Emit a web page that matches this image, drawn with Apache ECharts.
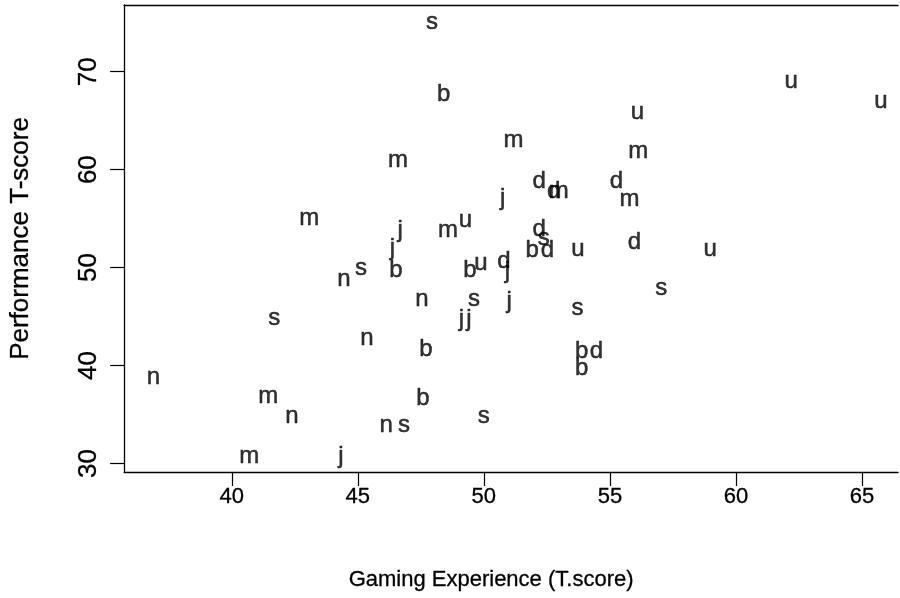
<!DOCTYPE html>
<html>
<head>
<meta charset="utf-8">
<script src="https://cdn.jsdelivr.net/npm/echarts@6/dist/echarts.min.js"></script>
<style>
html,body{margin:0;padding:0;background:#fff;}
#chart{width:900px;height:598px;}
</style>
</head>
<body>
<div id="chart"></div>
<script>
// Group labels (letters plotted as points)
const categories = ['b', 'd', 'j', 'm', 'n', 's', 'u'];

// [Gaming Experience T.score, Performance T-score]
const bPoints = [[48.41, 67.72], [46.51, 49.75], [49.45, 49.75], [51.92, 51.73], [47.70, 41.69], [53.88, 41.49], [53.88, 39.75], [47.58, 36.69]];
const dPoints = [[52.19, 58.77], [52.77, 57.82], [55.26, 58.84], [52.19, 53.91], [52.52, 51.73], [55.97, 52.61], [50.80, 50.60], [54.47, 41.49]];
const jPoints = [[50.75, 57.10], [46.68, 53.84], [46.37, 52.00], [50.93, 49.58], [51.00, 46.52], [49.11, 44.72], [49.41, 44.72], [44.33, 30.77]];
const mPoints = [[51.18, 63.03], [56.13, 61.90], [46.59, 60.98], [52.97, 57.82], [55.78, 57.00], [43.07, 55.06], [48.58, 53.84], [41.45, 36.89], [40.69, 30.77]];
const nPoints = [[44.45, 48.84], [47.54, 46.79], [45.36, 42.81], [36.89, 38.83], [42.39, 34.85], [46.12, 33.93]];
const sPoints = [[47.94, 75.07], [45.13, 49.93], [49.61, 46.76], [41.68, 44.85], [53.72, 45.88], [57.04, 47.92], [46.83, 33.93], [50.00, 34.85], [52.38, 52.99]];
const uPoints = [[62.19, 69.05], [65.75, 67.00], [56.09, 65.88], [49.27, 54.86], [53.73, 51.87], [58.98, 51.90], [49.88, 50.44]];

const xTicks = [40, 45, 50, 55, 60, 65];
const yTicks = [30, 40, 50, 60, 70];
const xTitle = 'Gaming Experience (T.score)';
const yTitle = 'Performance T-score';

const pointsByCat = { b: bPoints, d: dPoints, j: jPoints, m: mPoints, n: nPoints, s: sPoints, u: uPoints };

const FONT = "'Liberation Sans', Arial, sans-serif";
const chart = echarts.init(document.getElementById('chart'), null, { renderer: 'canvas' });

const series = categories.map(function (c) {
  return {
    name: c,
    type: 'scatter',
    data: pointsByCat[c],
    symbol: 'circle',
    symbolSize: 1,
    itemStyle: { color: 'transparent' },
    silent: true,
    label: {
      show: true,
      position: 'inside',
      formatter: c,
      color: '#000',
      fontSize: 24,
      fontFamily: FONT,
      textBorderColor: '#000',
      textBorderWidth: 0.5
    }
  };
});

const XMIN = 35.73, XMAX = 66.43, YMIN = 29.13, YMAX = 76.81;

chart.setOption({
  animation: false,
  backgroundColor: '#fff',
  grid: {
    left: 123, top: 5, width: 775, height: 467, show: false
  },
  xAxis: [{
    type: 'value',
    min: XMIN, max: XMAX,
    splitLine: { show: false },
    axisLine: { show: true, onZero: false, lineStyle: { color: '#000', width: 1.3 } },
    axisTick: { show: true, length: 14, customValues: xTicks, lineStyle: { color: '#000', width: 1.2 } },
    axisLabel: { customValues: xTicks, color: '#000', fontSize: 22, fontFamily: FONT, margin: 14, textBorderColor: '#000', textBorderWidth: 0.3 },
    name: xTitle,
    nameLocation: 'middle',
    nameGap: 97,
    nameTextStyle: { color: '#000', fontSize: 22, fontFamily: FONT, padding: [0, 40, 0, 0], textBorderColor: '#000', textBorderWidth: 0.3 }
  }, {
    type: 'value',
    position: 'top',
    min: XMIN, max: XMAX,
    splitLine: { show: false },
    axisLine: { show: true, onZero: false, lineStyle: { color: '#000', width: 1.3 } },
    axisTick: { show: false },
    axisLabel: { show: false }
  }],
  yAxis: {
    type: 'value',
    min: YMIN, max: YMAX,
    splitLine: { show: false },
    axisLine: { show: true, onZero: false, lineStyle: { color: '#000', width: 1.3 } },
    axisTick: { show: true, length: 14, customValues: yTicks, lineStyle: { color: '#000', width: 1.2 } },
    axisLabel: { customValues: yTicks, color: '#000', fontSize: 26, fontFamily: FONT, margin: 22, rotate: 90, textBorderColor: '#000', textBorderWidth: 0.3 },
    name: yTitle,
    nameLocation: 'middle',
    nameGap: 90,
    nameTextStyle: { color: '#000', fontSize: 26, fontFamily: FONT, textBorderColor: '#000', textBorderWidth: 0.3 }
  },
  series: series
});
</script>
</body>
</html>
